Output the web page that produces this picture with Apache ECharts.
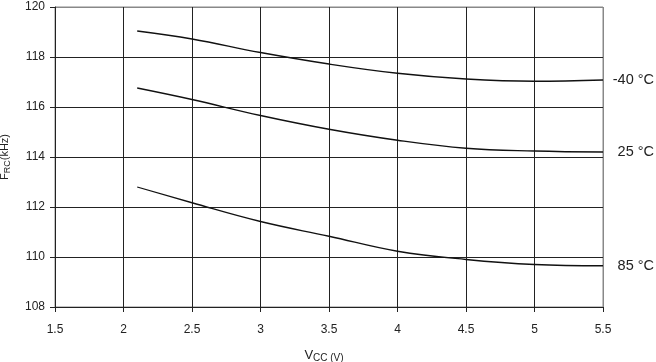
<!DOCTYPE html>
<html><head><meta charset="utf-8">
<script src="https://cdn.jsdelivr.net/npm/echarts@6/dist/echarts.min.js"></script>
<style>html,body{margin:0;padding:0;background:#fff}#c{width:656px;height:362px}</style>
</head><body><div id="c"></div>
<script>
const vcc = [2.1, 2.5, 3, 3.5, 4, 4.5, 5, 5.5];
const fMinus40 = [119.04, 118.72, 118.18, 117.72, 117.35, 117.12, 117.03, 117.08];
const f25 = [116.76, 116.3, 115.66, 115.11, 114.67, 114.35, 114.24, 114.2];
const f85 = [112.8, 112.17, 111.42, 110.83, 110.23, 109.9, 109.7, 109.65];
const seriesNames = ['-40 °C', '25 °C', '85 °C'];
const xTicks = [1.5, 2, 2.5, 3, 3.5, 4, 4.5, 5, 5.5];
const yTicks = [108, 110, 112, 114, 116, 118, 120];

const font = 'Liberation Sans, Arial, sans-serif';
const chart = echarts.init(document.getElementById('c'));
const mk = (name, vals) => ({
  name, type: 'line', smooth: 0.4, symbol: 'none',
  data: vcc.map((x, i) => [x, vals[i]]),
  lineStyle: { color: '#111', width: 1.3 },
  endLabel: { show: true, formatter: name, color: '#222', fontSize: 14.5, fontFamily: font, align: 'right', distance: 51 }
});
chart.setOption({
  animation: false,
  grid: { left: 55, right: 53, top: 7, bottom: 55, show: true, borderColor: '#888', borderWidth: 1, outerBoundsMode: 'none', containLabel: false },
  xAxis: {
    type: 'value', min: 1.5, max: 5.5, interval: 0.5,
    name: 'V{s|CC (V)}', nameLocation: 'middle', nameGap: 40,
    nameTextStyle: { color: '#222', fontSize: 13, fontFamily: font, padding: [0, 10, 0, 0], rich: { s: { fontSize: 10, fontFamily: font, color: '#222', padding: [6, 0, 0, 0] } } },
    axisLine: { lineStyle: { color: '#222', width: 1 } },
    axisTick: { show: true, length: 5, lineStyle: { color: '#222' } },
    axisLabel: { color: '#222', fontSize: 12, fontFamily: font, margin: 17, formatter: v => xTicks.includes(v) ? String(v) : '' },
    splitLine: { show: true, lineStyle: { color: ['#222','#222','#222','#222','#222','#222','#222','#222','#888'], width: 1 } }
  },
  yAxis: {
    type: 'value', min: 108, max: 120, interval: 2,
    name: 'F{s|RC}(kHz)', nameLocation: 'middle', nameGap: 43,
    nameTextStyle: { color: '#222', fontSize: 11, fontFamily: font, rich: { s: { fontSize: 9, fontFamily: font, color: '#222', padding: [5, 0, 0, 0] } } },
    axisLine: { show: true, lineStyle: { color: '#222', width: 1 } },
    axisTick: { show: true, length: 5, lineStyle: { color: '#222' } },
    axisLabel: { color: '#222', fontSize: 12, fontFamily: font, margin: 10, formatter: v => yTicks.includes(v) ? String(v) : '' },
    splitLine: { show: true, lineStyle: { color: ['#222','#222','#222','#222','#222','#222','#888'], width: 1 } }
  },
  series: [mk(seriesNames[0], fMinus40), mk(seriesNames[1], f25), mk(seriesNames[2], f85)]
});
</script></body></html>
